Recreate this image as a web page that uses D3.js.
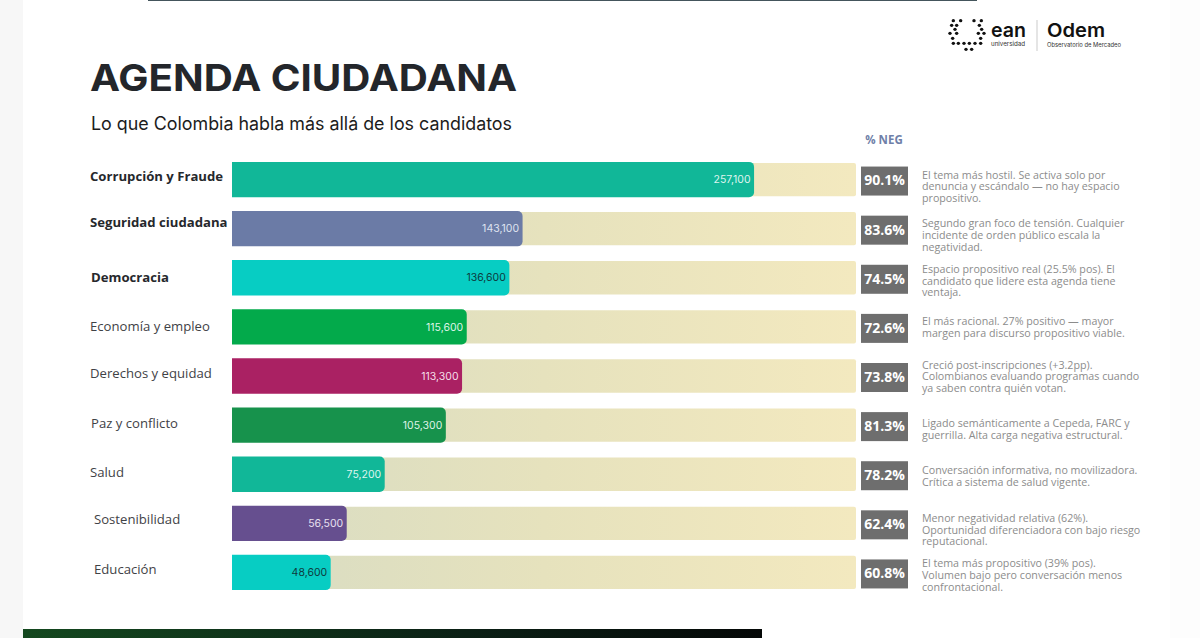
<!DOCTYPE html>
<html>
<head>
<meta charset="utf-8">
<script src="https://cdn.jsdelivr.net/npm/d3@7"></script>
<style>
  html, body { margin: 0; padding: 0; background: #fff; overflow: hidden; }
  svg { display: block; }
</style>
</head>
<body>
<div id="chart"></div>
<script>
// data
const categories = ["Corrupción y Fraude", "Seguridad ciudadana", "Democracia", "Economía y empleo",
  "Derechos y equidad", "Paz y conflicto", "Salud", "Sostenibilidad", "Educación"];
const volumes = [257100, 143100, 136600, 115600, 113300, 105300, 75200, 56500, 48600];
const negShare = [90.1, 83.6, 74.5, 72.6, 73.8, 81.3, 78.2, 62.4, 60.8];
const notes = [
  ["El tema más hostil. Se activa solo por", "denuncia y escándalo — no hay espacio", "propositivo."],
  ["Segundo gran foco de tensión. Cualquier", "incidente de orden público escala la", "negatividad."],
  ["Espacio propositivo real (25.5% pos). El", "candidato que lidere esta agenda tiene", "ventaja."],
  ["El más racional. 27% positivo — mayor", "margen para discurso propositivo viable."],
  ["Creció post-inscripciones (+3.2pp).", "Colombianos evaluando programas cuando", "ya saben contra quién votan."],
  ["Ligado semánticamente a Cepeda, FARC y", "guerrilla. Alta carga negativa estructural."],
  ["Conversación informativa, no movilizadora.", "Crítica a sistema de salud vigente."],
  ["Menor negatividad relativa (62%).", "Oportunidad diferenciadora con bajo riesgo", "reputacional."],
  ["El tema más propositivo (39% pos).", "Volumen bajo pero conversación menos", "confrontacional."]
];
const barColors = ["#11b798", "#6b7ba6", "#07cdc3", "#03aa4b", "#aa2163", "#17924c", "#11b798", "#664f8f", "#07cdc3"];
const valueColors = ["#dff5ef", "#dfe3f0", "#0e3b3d", "#dff5e8", "#f5dfe9", "#dff2e6", "#dff5ef", "#e6e0f0", "#0e3b3d"];

// the reference's rows are hand placed, small offsets per row
const labelNudge = [[0, -3.5], [0, -6.5], [1, 0], [0, 0], [0, -3], [1, -2], [0, -2], [4, -3.5], [4, -3]];
const noteNudge = [7, 6.5, 3, 0.5, 0.5, 4, 2, 6.5, 3];

const width = 1200, height = 638;
const svg = d3.select("#chart").append("svg").attr("width", width).attr("height", height);
const sans = "'Open Sans', 'Noto Sans', sans-serif";
const geo = "Inter, 'Liberation Sans', sans-serif";

const x = d3.scaleLinear().domain([0, 307300]).range([232, 856]);
const y = d3.scaleBand().domain(categories).range([155, 597]).paddingInner(0.28).paddingOuter(0.14);

const defs = svg.append("defs");
const track = defs.append("linearGradient").attr("id", "track")
  .attr("gradientUnits", "userSpaceOnUse").attr("x1", 232).attr("x2", 856).attr("y1", 0).attr("y2", 0);
track.append("stop").attr("offset", 0).attr("stop-color", "#d8dcc3");
track.append("stop").attr("offset", 0.5).attr("stop-color", "#e6e2bd");
track.append("stop").attr("offset", 1).attr("stop-color", "#f3e9bf");
const foot = defs.append("linearGradient").attr("id", "foot");
foot.append("stop").attr("offset", 0).attr("stop-color", "#14481f");
foot.append("stop").attr("offset", 0.6).attr("stop-color", "#0b2015");
foot.append("stop").attr("offset", 1).attr("stop-color", "#050807");

// page frame
svg.append("rect").attr("width", 23).attr("height", height).attr("fill", "#f7f7f7");
svg.append("rect").attr("x", 1170).attr("width", 30).attr("height", height).attr("fill", "#fdfdfd");
svg.append("rect").attr("x", 148).attr("width", 829).attr("height", 1).attr("fill", "#44555c");
svg.append("rect").attr("x", 23).attr("y", 629).attr("width", 739).attr("height", 9).attr("fill", "url(#foot)");

svg.append("text").attr("x", 90).attr("y", 91).attr("font-family", geo).attr("font-weight", 700)
  .attr("font-size", 37).attr("fill", "#23262b").attr("textLength", 427).attr("lengthAdjust", "spacingAndGlyphs")
  .text("AGENDA CIUDADANA");
svg.append("text").attr("x", 91).attr("y", 130).attr("font-family", geo).attr("font-size", 18)
  .attr("fill", "#1c1c1c").attr("textLength", 421).attr("lengthAdjust", "spacingAndGlyphs")
  .text("Lo que Colombia habla más allá de los candidatos");
svg.append("text").attr("x", 884).attr("y", 144).attr("text-anchor", "middle").attr("font-family", sans)
  .attr("font-weight", 700).attr("font-size", 11.5).attr("fill", "#6f7fa8").text("% NEG");

// right rounded bar
function roundedBar(x0, y0, x1, h, r) {
  const p = d3.path();
  p.moveTo(x0, y0);
  p.lineTo(x1 - r, y0);
  p.arcTo(x1, y0, x1, y0 + r, r);
  p.lineTo(x1, y0 + h - r);
  p.arcTo(x1, y0 + h, x1 - r, y0 + h, r);
  p.lineTo(x0, y0 + h);
  p.closePath();
  return p.toString();
}

const rows = svg.selectAll("g.row").data(categories).join("g").attr("class", "row");

rows.append("path")
  .attr("d", d => roundedBar(x(0), y(d) + 1, x.range()[1], y.bandwidth() - 2, 2))
  .attr("fill", "url(#track)");
rows.append("path")
  .attr("d", (d, i) => roundedBar(x(0), y(d), x(volumes[i]), y.bandwidth(), 5))
  .attr("fill", (d, i) => barColors[i]);

rows.append("text")
  .attr("x", (d, i) => x(volumes[i]) - 3.5)
  .attr("y", d => y(d) + y.bandwidth() / 2)
  .attr("dy", "0.35em").attr("text-anchor", "end")
  .attr("font-family", geo).attr("font-size", 10.5)
  .attr("fill", (d, i) => valueColors[i])
  .text((d, i) => d3.format(",")(volumes[i]));

rows.append("text")
  .attr("x", (d, i) => 90 + labelNudge[i][0])
  .attr("y", (d, i) => y(d) + y.bandwidth() / 2 + labelNudge[i][1])
  .attr("dy", "0.35em")
  .attr("font-family", sans).attr("font-size", 13.15)
  .attr("font-weight", (d, i) => i < 3 ? 700 : 400)
  .attr("fill", (d, i) => i < 3 ? "#26282c" : "#3f4246")
  .text(d => d);

rows.append("rect")
  .attr("x", 861).attr("width", 47)
  .attr("y", d => y(d) + y.bandwidth() / 2 - 14 + 1).attr("height", 29)
  .attr("fill", "#6e6e6e");
rows.append("text")
  .attr("x", 884.5).attr("y", d => y(d) + y.bandwidth() / 2 + 1)
  .attr("dy", "0.35em").attr("text-anchor", "middle")
  .attr("font-family", sans).attr("font-weight", 700).attr("font-size", 14)
  .attr("fill", "#fff")
  .text((d, i) => negShare[i].toFixed(1) + "%");

// notes, one text per row with a tspan per line
const lineGap = 11.7;
rows.append("text")
  .attr("class", "note")
  .attr("font-family", sans).attr("font-size", 10.7).attr("fill", "#8c8c8c")
  .each(function(d, i) {
    const cy = y(d) + y.bandwidth() / 2 + noteNudge[i];
    d3.select(this).selectAll("tspan").data(notes[i]).join("tspan")
      .attr("x", 922)
      .attr("y", (l, j) => cy + (j - (notes[i].length - 1) / 2) * lineGap)
      .attr("dy", "0.35em")
      .text(l => l);
  });

// logo block
const logoDots = [[40,32],[62,32],[102,32],[124,32],[35,46],[50,46],[118,46],[45,58],[125,58],
  [30,70],[50,70],[115,70],[132,70],[38,85],[122,85],[55,100],[72,100],[88,100],[105,100],[40,100],[122,100],[78,118],[95,118]];
const logo = svg.append("g");
logo.selectAll("circle").data(logoDots).join("circle")
  .attr("cx", d => 940 + d[0] / 3).attr("cy", d => 10 + d[1] / 3).attr("r", 1.7).attr("fill", "#111");
const logoLeft = logo.append("text").attr("font-family", geo).attr("fill", "#111");
logoLeft.append("tspan").attr("x", 991).attr("y", 37).attr("font-weight", 600).attr("font-size", 20)
  .attr("textLength", 35).attr("lengthAdjust", "spacingAndGlyphs").text("ean");
logoLeft.append("tspan").attr("x", 991).attr("y", 46).attr("font-size", 5.8).attr("fill", "#333")
  .attr("textLength", 34).attr("lengthAdjust", "spacingAndGlyphs").text("universidad");
logo.append("rect").attr("x", 1036.5).attr("y", 20).attr("width", 1).attr("height", 31).attr("fill", "#ccc");
const logoRight = logo.append("text").attr("font-family", geo).attr("fill", "#111");
logoRight.append("tspan").attr("x", 1047).attr("y", 37).attr("font-weight", 600).attr("font-size", 19)
  .attr("textLength", 58).attr("lengthAdjust", "spacingAndGlyphs").text("Odem");
logoRight.append("tspan").attr("x", 1047).attr("y", 46.5).attr("font-size", 5.6).attr("fill", "#333")
  .attr("textLength", 74).attr("lengthAdjust", "spacingAndGlyphs").text("Observatorio de Mercadeo");
</script>
</body>
</html>
